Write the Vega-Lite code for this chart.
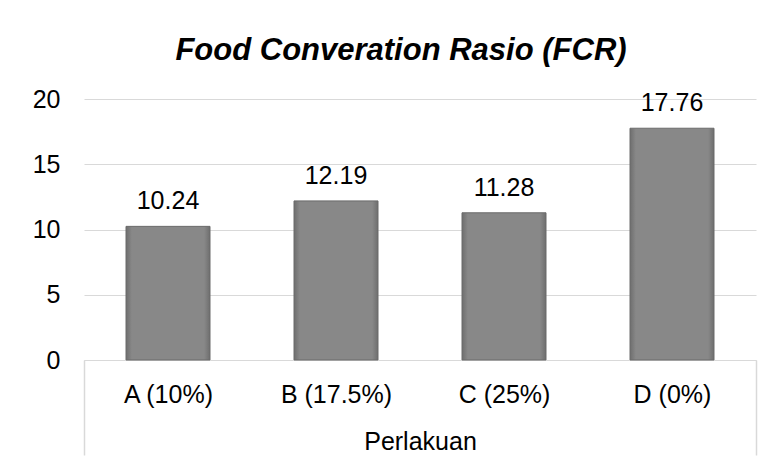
{
  "$schema": "https://vega.github.io/schema/vega-lite/v6.json",
  "width": 672,
  "height": 261,
  "autosize": {"type": "none"},
  "padding": {"left": 84, "top": 99, "right": 17, "bottom": 102},
  "background": "white",
  "config": {
    "font": "Liberation Sans",
    "view": {"stroke": null}
  },
  "title": {
    "text": "Food Converation Rasio (FCR)",
    "fontSize": 31,
    "fontWeight": "bold",
    "fontStyle": "italic",
    "font": "Liberation Sans",
    "color": "#000000",
    "anchor": "middle",
    "frame": "group",
    "dx": -19,
    "baseline": "alphabetic",
    "offset": -4
  },
  "data": {
    "values": [
      {"Perlakuan": "A (10%)", "FCR": 10.24},
      {"Perlakuan": "B (17.5%)", "FCR": 12.19},
      {"Perlakuan": "C (25%)", "FCR": 11.28},
      {"Perlakuan": "D (0%)", "FCR": 17.76}
    ]
  },
  "encoding": {
    "x": {
      "field": "Perlakuan",
      "type": "nominal",
      "sort": null,
      "scale": {"paddingInner": 0, "paddingOuter": 0},
      "axis": {
        "title": "Perlakuan",
        "titleFontSize": 25,
        "titleFontWeight": "normal",
        "titleColor": "#000000",
        "titleBaseline": "alphabetic",
        "titlePadding": -6,
        "labelAngle": 0,
        "labelFontSize": 25,
        "labelColor": "#000000",
        "labelBaseline": "alphabetic",
        "labelPadding": -53,
        "domainColor": "#d9d9d9",
        "domainWidth": 1,
        "tickBand": "extent",
        "tickSize": 95,
        "tickWidth": 1.5,
        "tickColor": {"condition": {"test": "datum.index < 0 || datum.value === 'D (0%)'", "value": "#d9d9d9"}, "value": "transparent"}
      }
    },
    "y": {
      "field": "FCR",
      "type": "quantitative",
      "scale": {"domain": [0, 20]},
      "axis": {
        "title": null,
        "values": [0, 5, 10, 15, 20],
        "labelFontSize": 25,
        "labelColor": "#000000",
        "labelPadding": 24,
        "ticks": false,
        "domain": false,
        "gridColor": "#d9d9d9",
        "gridWidth": 1
      }
    }
  },
  "layer": [
    {
      "mark": {
        "type": "bar",
        "width": {"band": 0.5},
        "stroke": "#6b6b6b",
        "strokeWidth": 1,
        "color": {
          "gradient": "linear",
          "x1": 0, "y1": 0, "x2": 1, "y2": 0,
          "stops": [
            {"offset": 0, "color": "#6e6e6e"},
            {"offset": 0.07, "color": "#888888"},
            {"offset": 0.93, "color": "#888888"},
            {"offset": 1, "color": "#6e6e6e"}
          ]
        }
      }
    },
    {
      "mark": {
        "type": "text",
        "fontSize": 25,
        "color": "#000000",
        "baseline": "alphabetic",
        "dy": -17
      },
      "encoding": {
        "text": {"field": "FCR", "type": "quantitative", "format": ".2f"}
      }
    }
  ]
}
